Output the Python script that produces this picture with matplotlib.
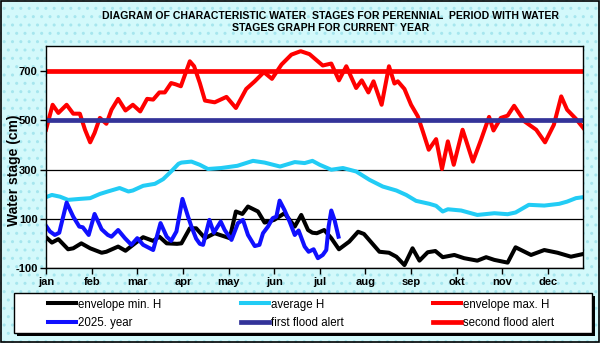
"""Characteristic water stages for the perennial period, with the current year."""
import matplotlib
matplotlib.use("Agg")
import matplotlib.pyplot as plt
from matplotlib.patches import Rectangle

plt.rcParams["font.family"] = ["Liberation Sans", "DejaVu Sans"]
plt.rcParams["axes.unicode_minus"] = False

W, H = 600, 343  # figure size in px

# ---- data (day of year, water stage in cm) ----
MONTHS = ["jan", "feb", "mar", "apr", "may", "jun",
          "jul", "aug", "sep", "okt", "nov", "dec"]
MONTH_TICKS = [0, 31, 62, 93, 124, 155, 186, 217, 248, 279, 310, 341]

max_days = [0, 4.5, 8.4, 14, 18.5, 23, 26.5, 30, 33, 36.6, 41, 44.5, 49, 54, 59,
            64, 68.7, 72.8, 77, 80.7, 85, 88, 91.6, 97.7, 100.6, 104.5, 108,
            114.6, 122.6, 129, 136, 141.8, 148, 153.5, 160, 166.7, 173, 179,
            188, 193.8, 199, 204, 210.7, 214.5, 219, 222.5, 228, 233, 236.7,
            239, 243.5, 248, 252.6, 256, 260, 265, 269, 273, 277, 283, 290,
            295.5, 301, 304, 309, 313.6, 318, 325, 333, 339, 345, 350, 354,
            360, 365]
max_vals = [461, 562, 529, 562, 526, 526, 461, 410, 448, 509, 485, 542, 586, 539,
            562, 535, 586, 583, 612, 612, 650, 645, 637, 738, 718, 650, 579,
            572, 594, 549, 626, 657, 694, 667, 725, 765, 779, 767, 721, 729,
            661, 718, 630, 661, 612, 657, 562, 718, 648, 657, 626, 562, 515,
            454, 380, 423, 302, 414, 319, 461, 332, 420, 513, 458, 509, 518,
            558, 495, 461, 410, 481, 596, 542, 505, 468]

avg_days = [0, 4, 9.5, 15, 23, 30, 36.6, 42, 50, 56, 59, 66, 74, 79.6, 85, 90,
            92, 98.8, 104.5, 110, 119, 130, 140.6, 148.5, 159, 169, 175.7, 181,
            186, 193.8, 201.7, 210.7, 219.8, 228.8, 238, 244.7, 251.4, 260.5,
            265, 269.5, 273, 282, 293, 304.6, 313.6, 319, 328, 338.5, 348.6,
            354, 360, 365]
avg_vals = [188, 197, 190, 177, 181, 184, 201, 211, 225, 211, 215, 234, 242, 261,
            292, 323, 328, 332, 319, 302, 306, 315, 335, 328, 312, 330, 326,
            335, 319, 299, 306, 292, 258, 231, 215, 197, 173, 161, 153, 130,
            139, 134, 116, 123, 119, 126, 157, 154, 161, 170, 184, 188]

min_days = [0, 4, 8.4, 15, 18.5, 24, 30, 37.8, 41, 49, 54, 60, 66, 72.8, 77, 82,
            89, 92, 97.7, 102, 108, 114.6, 124.8, 129, 133.4, 137.2, 144, 148.5,
            155, 162, 169, 173.4, 178, 181, 184, 189, 193.8, 199, 206, 212, 216,
            226.5, 233, 238, 243.5, 249, 253.7, 259.3, 264.5, 269.5, 277.4, 284,
            293, 299, 304.6, 313.6, 319, 329.5, 338.5, 347.5, 356.6, 365]
min_vals = [26, 4, 18, -23, -19, 1, -19, -37, -33, -12, -29, -1, 26, 11, 28, 1,
            -1, 1, 62, 62, 22, 42, 22, 130, 120, 150, 130, 85, 96, 123, 69, 116,
            55, 44, 42, 55, 22, -23, 8, 48, 39, -33, -37, -53, -87, -19, -69,
            -35, -30, -55, -46, -59, -69, -55, -66, -77, -15, -46, -26, -37,
            -53, -42]

cur_days = [0, 2.7, 6, 9, 14, 18.5, 22.6, 25, 29, 33, 37.8, 42, 44.5, 49, 53.6,
            58, 62, 66, 72.8, 77.8, 82, 85, 88.6, 92.7, 96.5, 98.8, 102, 104.5,
            106.7, 111, 114, 118.7, 121.4, 126, 130.4, 133.8, 137.2, 141.8, 145,
            147.4, 150.8, 154, 156.5, 158.7, 162, 165.5, 169, 171.6, 175.7,
            178.4, 181.8, 184.7, 188, 190.4, 192, 193.8, 196, 198.7]
cur_vals = [72, 49, 35, 44, 166, 109, 69, 66, 35, 120, 58, 35, 28, 55, 22, -5, 22,
            -5, -26, 83, 28, 11, 49, 181, 109, 69, 20, -1, -5, 96, 44, 89, 55,
            15, 83, 96, 35, -10, -5, 42, 69, 103, 109, 174, 136, 89, 35, 53,
            -12, -33, -23, -59, -46, -26, 69, 134, 96, 28]

FIRST_ALERT = 500
SECOND_ALERT = 700

BG = "#d3f9fb"
C_MIN, C_AVG, C_MAX = "#000000", "#22ccf5", "#ff0000"
C_CUR, C_ALERT1, C_ALERT2 = "#1010ff", "#333399", "#ff0000"
LW = 2.9


def px(x, y):
    """Pixel position (from top-left) to figure fraction."""
    return x / W, 1 - y / H


def main() -> None:
    fig = plt.figure(figsize=(W / 100, H / 100), dpi=100)
    fig.patch.set_facecolor(BG)
    fig.patches.append(Rectangle((0, 0), 1, 1, transform=fig.transFigure,
                                 facecolor="none", edgecolor="#a6e6ee",
                                 hatch="..", lw=0, zorder=-5))
    fig.patches.append(Rectangle((0.002, 0.003), 0.996, 0.994,
                                 transform=fig.transFigure, facecolor="none",
                                 edgecolor="black", lw=1.2, zorder=5))

    # legend box with hard black shadow
    bx, by = px(14, 333)
    bw, bh = 578 / W, 40 / H
    fig.patches.append(Rectangle((bx + 3 / W, by - 3 / H), bw, bh,
                                 transform=fig.transFigure, facecolor="black",
                                 lw=0, zorder=1))
    fig.patches.append(Rectangle((bx, by), bw, bh, transform=fig.transFigure,
                                 facecolor="white", edgecolor="black", lw=1,
                                 zorder=2))

    l, b = px(46, 268.3)
    r, t = px(583.3, 46)
    ax = fig.add_axes([l, b, r - l, t - b])
    ax.set_facecolor("white")

    h_min, = ax.plot(min_days, min_vals, color=C_MIN, lw=LW, solid_joinstyle="round")
    h_avg, = ax.plot(avg_days, avg_vals, color=C_AVG, lw=LW, solid_joinstyle="round")
    h_max, = ax.plot(max_days, max_vals, color=C_MAX, lw=LW, solid_joinstyle="round")
    h_cur, = ax.plot(cur_days, cur_vals, color=C_CUR, lw=LW, solid_joinstyle="round")
    h_a1 = ax.axhline(FIRST_ALERT, color=C_ALERT1, lw=3.4)
    h_a2 = ax.axhline(SECOND_ALERT, color=C_ALERT2, lw=3.4)

    ax.set_xlim(0, 365)
    ax.set_ylim(-100, 800)
    ax.set_yticks([-100, 100, 300, 500, 700])
    ax.set_yticklabels(["-100", "100", "300", "500", "700"])
    ax.set_xticks(MONTH_TICKS)
    ax.set_xticklabels(MONTHS)
    ax.yaxis.grid(True, color="black", lw=0.9)
    ax.set_axisbelow(True)
    ax.tick_params(direction="out", length=4, width=1, labelsize=8, pad=2)
    for lab in ax.get_xticklabels() + ax.get_yticklabels():
        lab.set_fontweight("bold")
    for sp in ax.spines.values():
        sp.set_linewidth(1)

    fig.text(*px(14, 170), "Water stage (cm)", rotation=90, fontsize=10,
             fontweight="bold", ha="center", va="center", zorder=6)
    fig.text(*px(331, 22),
             "DIAGRAM OF CHARACTERISTIC WATER  STAGES FOR PERENNIAL  PERIOD WITH WATER\n"
             "STAGES GRAPH FOR CURRENT  YEAR",
             fontsize=7.6, fontweight="bold", ha="center", va="center",
             multialignment="center", linespacing=1.15)

    columns = [([h_min, h_cur], ["envelope min. H", "2025. year"], 48),
               ([h_avg, h_a1], ["average H", "first flood alert"], 241),
               ([h_max, h_a2], ["envelope max. H", "second flood alert"], 433)]
    for handles, labels, x0 in columns:
        leg = fig.legend(handles, labels, loc="center left",
                         bbox_to_anchor=px(x0, 313.7), frameon=False,
                         fontsize=8.3, handlelength=2.45, handletextpad=0.15,
                         borderpad=0, borderaxespad=0, labelspacing=0.55)
        leg.set_zorder(3)

    fig.savefig("out.png", dpi=100, facecolor=fig.get_facecolor())


if __name__ == "__main__":
    main()
